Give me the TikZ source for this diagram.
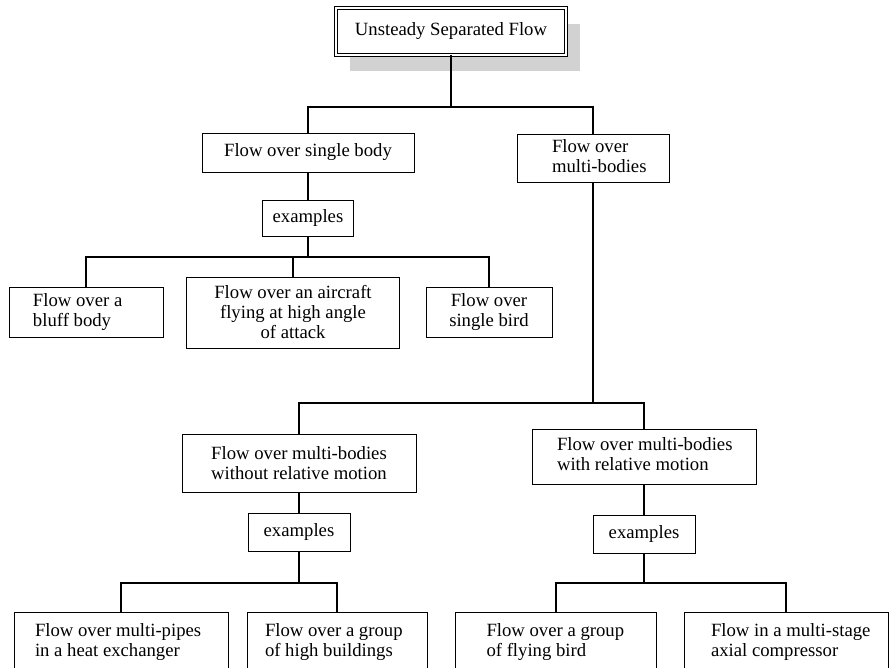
\documentclass[tikz,border=0pt]{standalone}
\usepackage{fontspec}
\setmainfont{Liberation Serif}
\usetikzlibrary{shadows}
\definecolor{shadowgray}{RGB}{210,210,210}
\newcommand{\fsz}{\fontsize{18.7}{20}\selectfont}
% left-aligned block of lines inside a box of width #2, starting #1 from its left edge
\newcommand{\ltxt}[3]{\makebox[#2pt][l]{\hspace*{#1pt}\begin{tabular}{@{}l@{}}#3\end{tabular}}}
\tikzset{
  box/.style={draw, line width=1pt, inner xsep=0pt, inner ysep=0pt, outer sep=0pt,
              font=\fsz, fill=white, align=center},
  lbox/.style={draw, line width=1pt, inner sep=0pt, outer sep=0pt, font=\fsz, fill=white},
  conn/.style={line width=1.1pt},
}
\begin{document}
\begin{tikzpicture}[x=1pt, y=-1pt]
\useasboundingbox (0,0) rectangle (889,667);
\clip (0,0) rectangle (889,667);
\coordinate (j1) at (0,107);
\coordinate (j2) at (0,257);
\coordinate (j3) at (0,403);
\coordinate (j4) at (0,583);

\node[box, double, double distance=2.5pt, line width=0.9pt,
      minimum width=230pt, minimum height=47pt,
      drop shadow={fill=shadowgray, opacity=1, shadow xshift=14pt, shadow yshift=-16pt}]
      (top) at (451,31.5) {Unsteady Separated Flow};

\node[box, minimum width=212pt, minimum height=39pt] (single) at (308,152.5) {Flow over single body};
\node[lbox, minimum height=48pt] (multi) at (593,158) {\ltxt{35}{152}{Flow over\\multi-bodies}};
\node[box, minimum width=91pt, minimum height=36pt] (exA) at (308,218) {examples};

\node[lbox, minimum height=50pt] (bluff) at (86,312) {\ltxt{24}{154}{Flow over a\\bluff body}};
\node[box, minimum width=213pt, minimum height=71pt] (air) at (293,312.5) {Flow over an aircraft\\flying at high angle\\of attack};
\node[box, minimum width=126pt, minimum height=50pt] (bird) at (489,312) {Flow over\\single bird};

\node[box, minimum width=234pt, minimum height=58pt] (wrm) at (299,463) {Flow over multi-bodies\\without relative motion};
\node[lbox, minimum height=55pt] (rm) at (644,456.5) {\ltxt{25}{224}{Flow over multi-bodies\\with relative motion}};
\node[box, minimum width=102pt, minimum height=38pt] (exB) at (299,532) {examples};
\node[box, minimum width=102pt, minimum height=38pt] (exC) at (644,534) {examples};

\node[lbox, minimum height=60pt] (b1) at (121,642) {\ltxt{21}{214}{Flow over multi-pipes\\in a heat exchanger}};
\node[lbox, minimum height=60pt] (b2) at (337,642) {\ltxt{18}{180}{Flow over a group\\of high buildings}};
\node[lbox, minimum height=60pt] (b3) at (556,642) {\ltxt{31}{201}{Flow over a group\\of flying bird}};
\node[lbox, minimum height=60pt] (b4) at (786,642) {\ltxt{27}{204}{Flow in a multi-stage\\axial compressor}};

\draw[conn] (top.south) -- (top.south |- j1);
\draw[conn] (single.north) -- (single.north |- j1) -- (multi.north |- j1) -- (multi.north);
\draw[conn] (single.south) -- (exA.north);
\draw[conn] (exA.south) -- (exA.south |- j2);
\draw[conn] (bluff.north) -- (bluff.north |- j2) -- (bird.north |- j2) -- (bird.north);
\draw[conn] (air.north) -- (air.north |- j2);
\draw[conn] (multi.south) -- (multi.south |- j3);
\draw[conn] (wrm.north) -- (wrm.north |- j3) -- (rm.north |- j3) -- (rm.north);
\draw[conn] (wrm.south) -- (exB.north);
\draw[conn] (rm.south) -- (exC.north);
\draw[conn] (exB.south) -- (exB.south |- j4);
\draw[conn] (b1.north) -- (b1.north |- j4) -- (b2.north |- j4) -- (b2.north);
\draw[conn] (exC.south) -- (exC.south |- j4);
\draw[conn] (b3.north) -- (b3.north |- j4) -- (b4.north |- j4) -- (b4.north);
\end{tikzpicture}
\end{document}
